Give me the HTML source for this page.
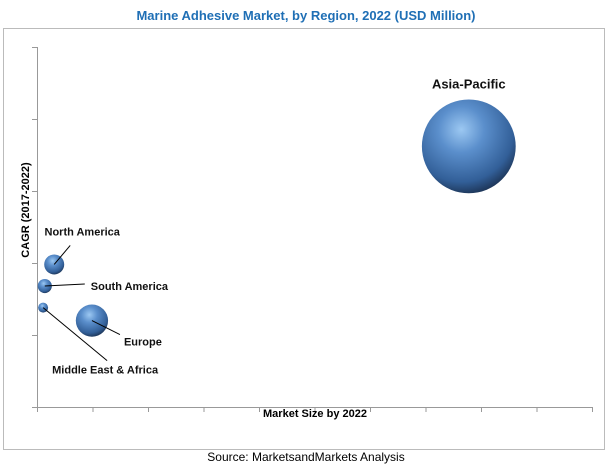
<!DOCTYPE html>
<html><head><meta charset="utf-8"><style>
body{margin:0;background:#fff;width:613px;height:467px;overflow:hidden;font-family:"Liberation Sans",Verdana,sans-serif}
</style></head><body>
<svg id="c" width="613" height="467">
<defs>
<radialGradient id="g" cx="0.42" cy="0.32" r="0.7">
<stop offset="0" stop-color="#9cc8f2"/><stop offset="0.35" stop-color="#5b8fcc"/><stop offset="0.8" stop-color="#325f98"/><stop offset="1" stop-color="#1d3557"/>
</radialGradient>
</defs>
<text x="306" y="20" text-anchor="middle" font-size="13" font-weight="bold" fill="#1f6fb5">Marine Adhesive Market, by Region, 2022 (USD Million)</text>
<rect x="3.5" y="28.5" width="601" height="421" fill="none" stroke="#bbb"/>
<g id="axes"></g><g id="bubbles"></g>
<text x="315" y="417" text-anchor="middle" font-size="11" font-weight="bold" fill="#000">Market Size by 2022</text>
<text transform="translate(29,210) rotate(-90)" text-anchor="middle" font-size="11" font-weight="bold" fill="#000">CAGR (2017-2022)</text>
<text x="306" y="461" text-anchor="middle" font-size="12" fill="#000">Source: MarketsandMarkets Analysis</text>
</svg>
<script>
const regions=["Asia-Pacific","North America","South America","Middle East & Africa","Europe"];
const marketSize=[7.78,0.31,0.14,0.11,0.99];
const cagr=[18.1,9.9,8.4,6.9,6.0];
const bubbleSize=[2200,100,50,25,260];
const xTicks=[0,1,2,3,4,5,6,7,8,9,10];
const yTicks=[0,5,10,15,20,25];
const X=v=>37+v*55.5, Y=v=>407-v*14.4, R=s=>Math.sqrt(s);
const ns="http://www.w3.org/2000/svg";
function mk(t,a,p){const e=document.createElementNS(ns,t);for(const k in a)e.setAttribute(k,a[k]);p.appendChild(e);return e;}
const ax=document.getElementById('axes');
const xl=mk('line',{x1:37,y1:407.5,x2:592,y2:407.5,stroke:'#999'},ax);


const yl=mk('line',{x1:37.5,y1:47,x2:37.5,y2:407,stroke:'#999'},ax);


xTicks.forEach(t=>{const l=mk('line',{x1:X(t)+0.5,y1:407,x2:X(t)+0.5,y2:412,stroke:'#999'},ax);

});
yTicks.forEach(t=>{const l=mk('line',{x1:32,y1:Y(t)+0.5,x2:37,y2:Y(t)+0.5,stroke:'#999'},ax);

});
const labels=[{dx:0,dy:-62,ax:0,ay:-55,anchor:"middle"},{dx:28,dy:-33,ax:16,ay:-19,anchor:"middle"},{dx:46,dy:0,ax:40,ay:-2,anchor:"start"},{dx:62,dy:62,ax:64,ay:53,anchor:"middle"},{dx:32,dy:21,ax:28,ay:14,anchor:"start"}];
const bg=document.getElementById('bubbles');
regions.forEach((n,i)=>{
 const cx=X(marketSize[i]),cy=Y(cagr[i]),r=R(bubbleSize[i]),L=labels[i];
 const c=mk('circle',{cx:cx,cy:cy,r:r,fill:'url(#g)'},bg);
 
 
 if(i>0){const l=mk('line',{x1:cx,y1:cy,x2:cx+L.ax,y2:cy+L.ay,stroke:'#000','stroke-width':1},bg);
 
 }
 const t=mk('text',{x:cx+L.dx,y:cy+L.dy+4,'text-anchor':L.anchor,'font-size':i==0?13:11,'font-weight':'bold',fill:'#111'},bg);
 t.textContent=n;
 
 
});
</script>
</body></html>
